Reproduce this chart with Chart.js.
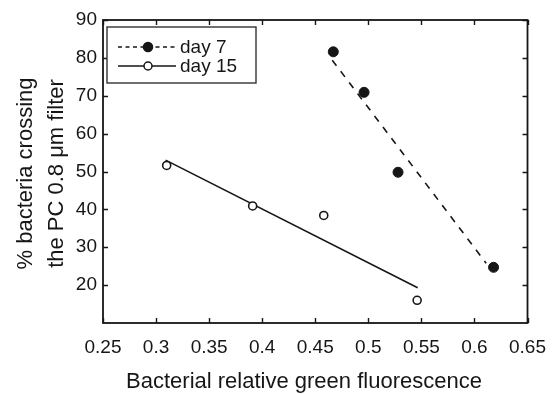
<!DOCTYPE html>
<html>
<head>
<meta charset="utf-8">
<script src="https://cdn.jsdelivr.net/npm/chart.js@4"></script>
<style>
html,body{margin:0;padding:0;background:#fff;}
#wrap{width:559px;height:394px;}
</style>
</head>
<body>
<div id="wrap"><canvas id="c" width="559" height="394"></canvas></div>
<script>
// ---- data ----
const day7X = [0.467, 0.496, 0.528, 0.618];
const day7Y = [81.6, 70.9, 49.8, 24.7];
const day15X = [0.310, 0.391, 0.458, 0.546];
const day15Y = [51.6, 40.9, 38.4, 16.0];
// fitted lines (end points)
const fit7X = [0.466, 0.611];
const fit7Y = [79.4, 25.8];
const fit15X = [0.309, 0.5465];
const fit15Y = [53.0, 19.3];
// axes
const xTickValues = [0.25, 0.3, 0.35, 0.4, 0.45, 0.5, 0.55, 0.6, 0.65];
const xTickLabels = ['0.25', '0.3', '0.35', '0.4', '0.45', '0.5', '0.55', '0.6', '0.65'];
const yTickValues = [20, 30, 40, 50, 60, 70, 80, 90];
const yTickLabels = ['20', '30', '40', '50', '60', '70', '80', '90'];
const seriesNames = ['day 7', 'day 15'];
const xTitle = 'Bacterial relative green fluorescence';
const yTitleLines = ['% bacteria crossing', 'the PC 0.8 \u03bcm filter'];

const pts = (xs, ys) => xs.map((x, i) => ({x: x, y: ys[i]}));
const FONT = '"Liberation Sans", Arial, Helvetica, sans-serif';
const INK = '#161616';

const decorPlugin = {
  id: 'decor',
  afterDraw(chart) {
    const ctx = chart.ctx;
    const a = chart.chartArea;
    const xs = chart.scales.x, ys = chart.scales.y;
    ctx.save();
    // frame
    ctx.strokeStyle = INK;
    ctx.lineWidth = 1.8;
    ctx.strokeRect(a.left, a.top, a.right - a.left, a.bottom - a.top);
    // inward ticks (all four sides)
    ctx.lineWidth = 1.4;
    ctx.beginPath();
    xTickValues.forEach(v => {
      const px = Math.round(xs.getPixelForValue(v)) + 0.5;
      ctx.moveTo(px, a.bottom); ctx.lineTo(px, a.bottom - 5);
      ctx.moveTo(px, a.top); ctx.lineTo(px, a.top + 5);
    });
    yTickValues.forEach(v => {
      const py = Math.round(ys.getPixelForValue(v)) + 0.5;
      ctx.moveTo(a.left, py); ctx.lineTo(a.left + 5, py);
      ctx.moveTo(a.right, py); ctx.lineTo(a.right - 5, py);
    });
    ctx.stroke();
    // axis titles
    ctx.fillStyle = INK;
    ctx.font = '22px ' + FONT;
    ctx.textAlign = 'center';
    ctx.textBaseline = 'alphabetic';
    ctx.fillText(xTitle, 304, 388);
    const cy = (a.top + a.bottom) / 2 + 2;
    ctx.save();
    ctx.translate(31.5, cy);
    ctx.rotate(-Math.PI / 2);
    ctx.fillText(yTitleLines[0], 0, 0);
    ctx.restore();
    ctx.save();
    ctx.translate(63, cy);
    ctx.rotate(-Math.PI / 2);
    ctx.fillText(yTitleLines[1], 0, 0);
    ctx.restore();
    // legend
    const lx = a.left + 4, ly = a.top + 7, lw = 149, lh = 56;
    ctx.fillStyle = '#fff';
    ctx.fillRect(lx, ly, lw, lh);
    ctx.strokeStyle = '#333';
    ctx.lineWidth = 1.4;
    ctx.strokeRect(lx, ly, lw, lh);
    const rows = [ly + 20, ly + 39];
    const x0 = lx + 11, x1 = lx + 69, xm = lx + 41;
    const ds = chart.data.datasets;
    [0, 1].forEach(i => {
      const y = rows[i];
      const fit = ds[i + 2], p = ds[i];
      ctx.strokeStyle = INK;
      ctx.lineWidth = 1.5;
      ctx.setLineDash(i === 0 ? [4, 3.5] : []);
      ctx.beginPath();
      ctx.moveTo(x0, y); ctx.lineTo(x1, y);
      ctx.stroke();
      ctx.setLineDash([]);
      ctx.beginPath();
      ctx.arc(xm, y, i === 0 ? 4.5 : 4, 0, Math.PI * 2);
      ctx.fillStyle = p.pointBackgroundColor;
      ctx.fill();
      ctx.lineWidth = 1.5;
      ctx.strokeStyle = p.pointBorderColor;
      ctx.stroke();
      ctx.fillStyle = INK;
      ctx.font = '19px ' + FONT;
      ctx.textAlign = 'left';
      ctx.textBaseline = 'middle';
      ctx.fillText(seriesNames[i], lx + 73, y + 1);
    });
    ctx.restore();
  }
};

new Chart(document.getElementById('c'), {
  type: 'scatter',
  data: {
    datasets: [
      {label: seriesNames[0], data: pts(day7X, day7Y), showLine: false,
       pointRadius: 5, pointHoverRadius: 5, pointBackgroundColor: INK, pointBorderColor: INK, pointBorderWidth: 1, order: 0},
      {label: seriesNames[1], data: pts(day15X, day15Y), showLine: false,
       pointRadius: 4, pointHoverRadius: 4, pointBackgroundColor: '#fff', pointBorderColor: INK, pointBorderWidth: 1.6, order: 1},
      {label: 'fit 7', data: pts(fit7X, fit7Y), showLine: true, borderColor: INK, borderWidth: 1.6,
       borderDash: [7, 7], pointRadius: 0, fill: false, order: 2},
      {label: 'fit 15', data: pts(fit15X, fit15Y), showLine: true, borderColor: INK, borderWidth: 1.6,
       pointRadius: 0, fill: false, order: 3}
    ]
  },
  options: {
    responsive: false,
    animation: false,
    devicePixelRatio: 1,
    layout: {padding: {left: 0, right: 26, top: 20, bottom: 0}},
    plugins: {legend: {display: false}, tooltip: {enabled: false}},
    scales: {
      x: {
        type: 'linear', min: 0.25, max: 0.65,
        grid: {display: false, drawTicks: false},
        border: {display: false},
        afterBuildTicks: s => { s.ticks = xTickValues.map(v => ({value: v})); },
        afterFit: s => { s.height = 71; },
        ticks: {
          autoSkip: false, maxRotation: 0, padding: 13, color: INK,
          font: {family: FONT, size: 19},
          callback: (v, i) => xTickLabels[i]
        }
      },
      y: {
        type: 'linear', min: 10, max: 90,
        grid: {display: false, drawTicks: false},
        border: {display: false},
        afterBuildTicks: s => { s.ticks = yTickValues.map(v => ({value: v})); },
        afterFit: s => { s.width = 103; },
        ticks: {
          autoSkip: false, padding: 6, color: INK,
          font: {family: FONT, size: 19},
          callback: (v, i) => yTickLabels[i]
        }
      }
    }
  },
  plugins: [decorPlugin]
});
</script>
</body>
</html>
